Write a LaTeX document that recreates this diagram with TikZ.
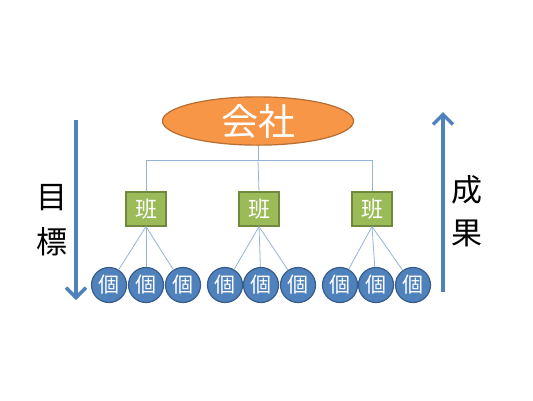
\documentclass[tikz,border=0pt]{standalone}
\usepackage{fontspec}
\newfontfamily\cjk{Noto Sans CJK JP}
\usetikzlibrary{shapes.geometric,arrows.meta}
\definecolor{orgfill}{HTML}{F79646}
\definecolor{orgline}{HTML}{B66D31}
\definecolor{grnfill}{HTML}{9BBB59}
\definecolor{grnline}{HTML}{71893F}
\definecolor{blufill}{HTML}{4F81BD}
\definecolor{bluline}{HTML}{385D8A}
\definecolor{treeline}{HTML}{95B3D7}
\begin{document}
\begin{tikzpicture}[x=1pt,y=-1pt,
  company/.style={ellipse,draw=orgline,fill=orgfill,line width=1.2pt,minimum width=191pt,minimum height=47pt,inner sep=0pt,text=white,font=\cjk\fontsize{37}{37}\selectfont},
  team/.style={rectangle,draw=grnline,fill=grnfill,line width=1.2pt,minimum width=40pt,minimum height=34pt,inner sep=0pt,text=white,font=\cjk\fontsize{22}{22}\selectfont},
  person/.style={circle,draw=bluline,fill=blufill,line width=1.2pt,minimum size=35pt,inner sep=0pt,text=white,font=\cjk\fontsize{21}{21}\selectfont},
  link/.style={draw=treeline,line width=0.8pt},
  bigarrow/.style={draw=blufill,line width=4pt,-{Straight Barb[length=10pt,width=20pt,line width=3.5pt]}},
  sidetext/.style={font=\cjk\fontsize{31}{31}\selectfont,text=black}
]
\useasboundingbox (0,0) rectangle (533,400);
\node[company] (co) at (258,121) {会社};
\coordinate (hub) at (258,160);
\node[team] (t1) at (146,209) {班};
\node[team] (t2) at (259,209) {班};
\node[team] (t3) at (372,209) {班};
\coordinate (h1) at (146,160);
\coordinate (h3) at (372,160);
\draw[link] (co.south) -- (hub);
\draw[link] (h1) -- (h3);
\draw[link] (h1) -- (t1.north);
\draw[link] (hub) -- (t2.north);
\draw[link] (h3) -- (t3.north);
\foreach \i/\x in {1/109,2/146,3/183,4/225,5/261,6/298,7/340,8/376,9/413}{
  \node[person] (p\i) at (\x,285) {個};
}
\foreach \t/\a/\b/\c in {t1/p1/p2/p3,t2/p4/p5/p6,t3/p7/p8/p9}{
  \draw[link] (\t.south) -- (\a);
  \draw[link] (\t.south) -- (\b);
  \draw[link] (\t.south) -- (\c);
}
\coordinate (la) at (76,120);
\coordinate (lb) at (76,300);
\coordinate (ra) at (443,292);
\coordinate (rb) at (443,112);
\draw[bigarrow] (la) -- (lb);
\draw[bigarrow] (ra) -- (rb);
\node[sidetext] (g1) at (52,198) {目};
\node[sidetext] (g2) at (52,242) {標};
\node[sidetext] (r1) at (467,190) {成};
\node[sidetext] (r2) at (467,233) {果};
\end{tikzpicture}
\end{document}
